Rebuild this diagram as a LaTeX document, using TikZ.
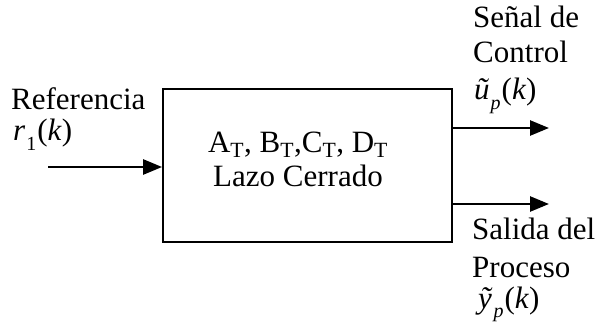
\documentclass[tikz,border=0pt]{standalone}
\usepackage{fontspec}
\setmainfont{Liberation Serif}
\usepackage{tikz}
\usetikzlibrary{arrows.meta,positioning}
\newcommand{\lowsub}[1]{\kern1pt\raisebox{-0.32em}{\fontsize{20}{20}\selectfont #1}\kern1pt}

\begin{document}
\begin{tikzpicture}[x=1pt, y=-1pt, font=\fontsize{31}{37}\selectfont,
  box/.style={draw, line width=1.8pt, minimum width=289pt, minimum height=153pt, inner sep=0pt},
  lbl/.style={anchor=base west, inner sep=0pt},
  sig/.style={line width=2.6pt, -{Triangle[length=19pt, width=15pt]}}]
  \useasboundingbox (0,0) rectangle (597,331);
  \node[box] (lazo) at (307.5,165.5) {};
  \node[align=center, inner sep=0pt] (txt) at (298,159) {A\textsubscript{T}, B\textsubscript{T},C\textsubscript{T}, D\textsubscript{T}\\[-3pt] Lazo Cerrado};
  \coordinate (r) at (48,167);
  \coordinate (u) at (549,128);
  \coordinate (y) at (549,204);
  \draw[sig] (r) -- (r -| lazo.west);
  \draw[sig] (u -| lazo.east) -- (u);
  \draw[sig] (y -| lazo.east) -- (y);
  % labels
  \node[lbl] (ref) at (11,110) {Referencia};
  \node[lbl] (rk) at (13,141) {\textit{r}\lowsub{1}(\textit{k})};
  \node[lbl] (sen) at (473,28) {Señal de};
  \node[lbl] (ctl) at (473,63) {Control};
  \node[lbl] (uk) at (474,100) {\textit{ũ}\lowsub{\textit{p}}(\textit{k})};
  \node[lbl] (sal) at (472,240) {Salida del};
  \node[lbl] (pro) at (472,277) {Proceso};
  \node[lbl] (yk) at (478,308) {\textit{ỹ}\lowsub{\textit{p}}(\textit{k})};
\end{tikzpicture}
\end{document}
